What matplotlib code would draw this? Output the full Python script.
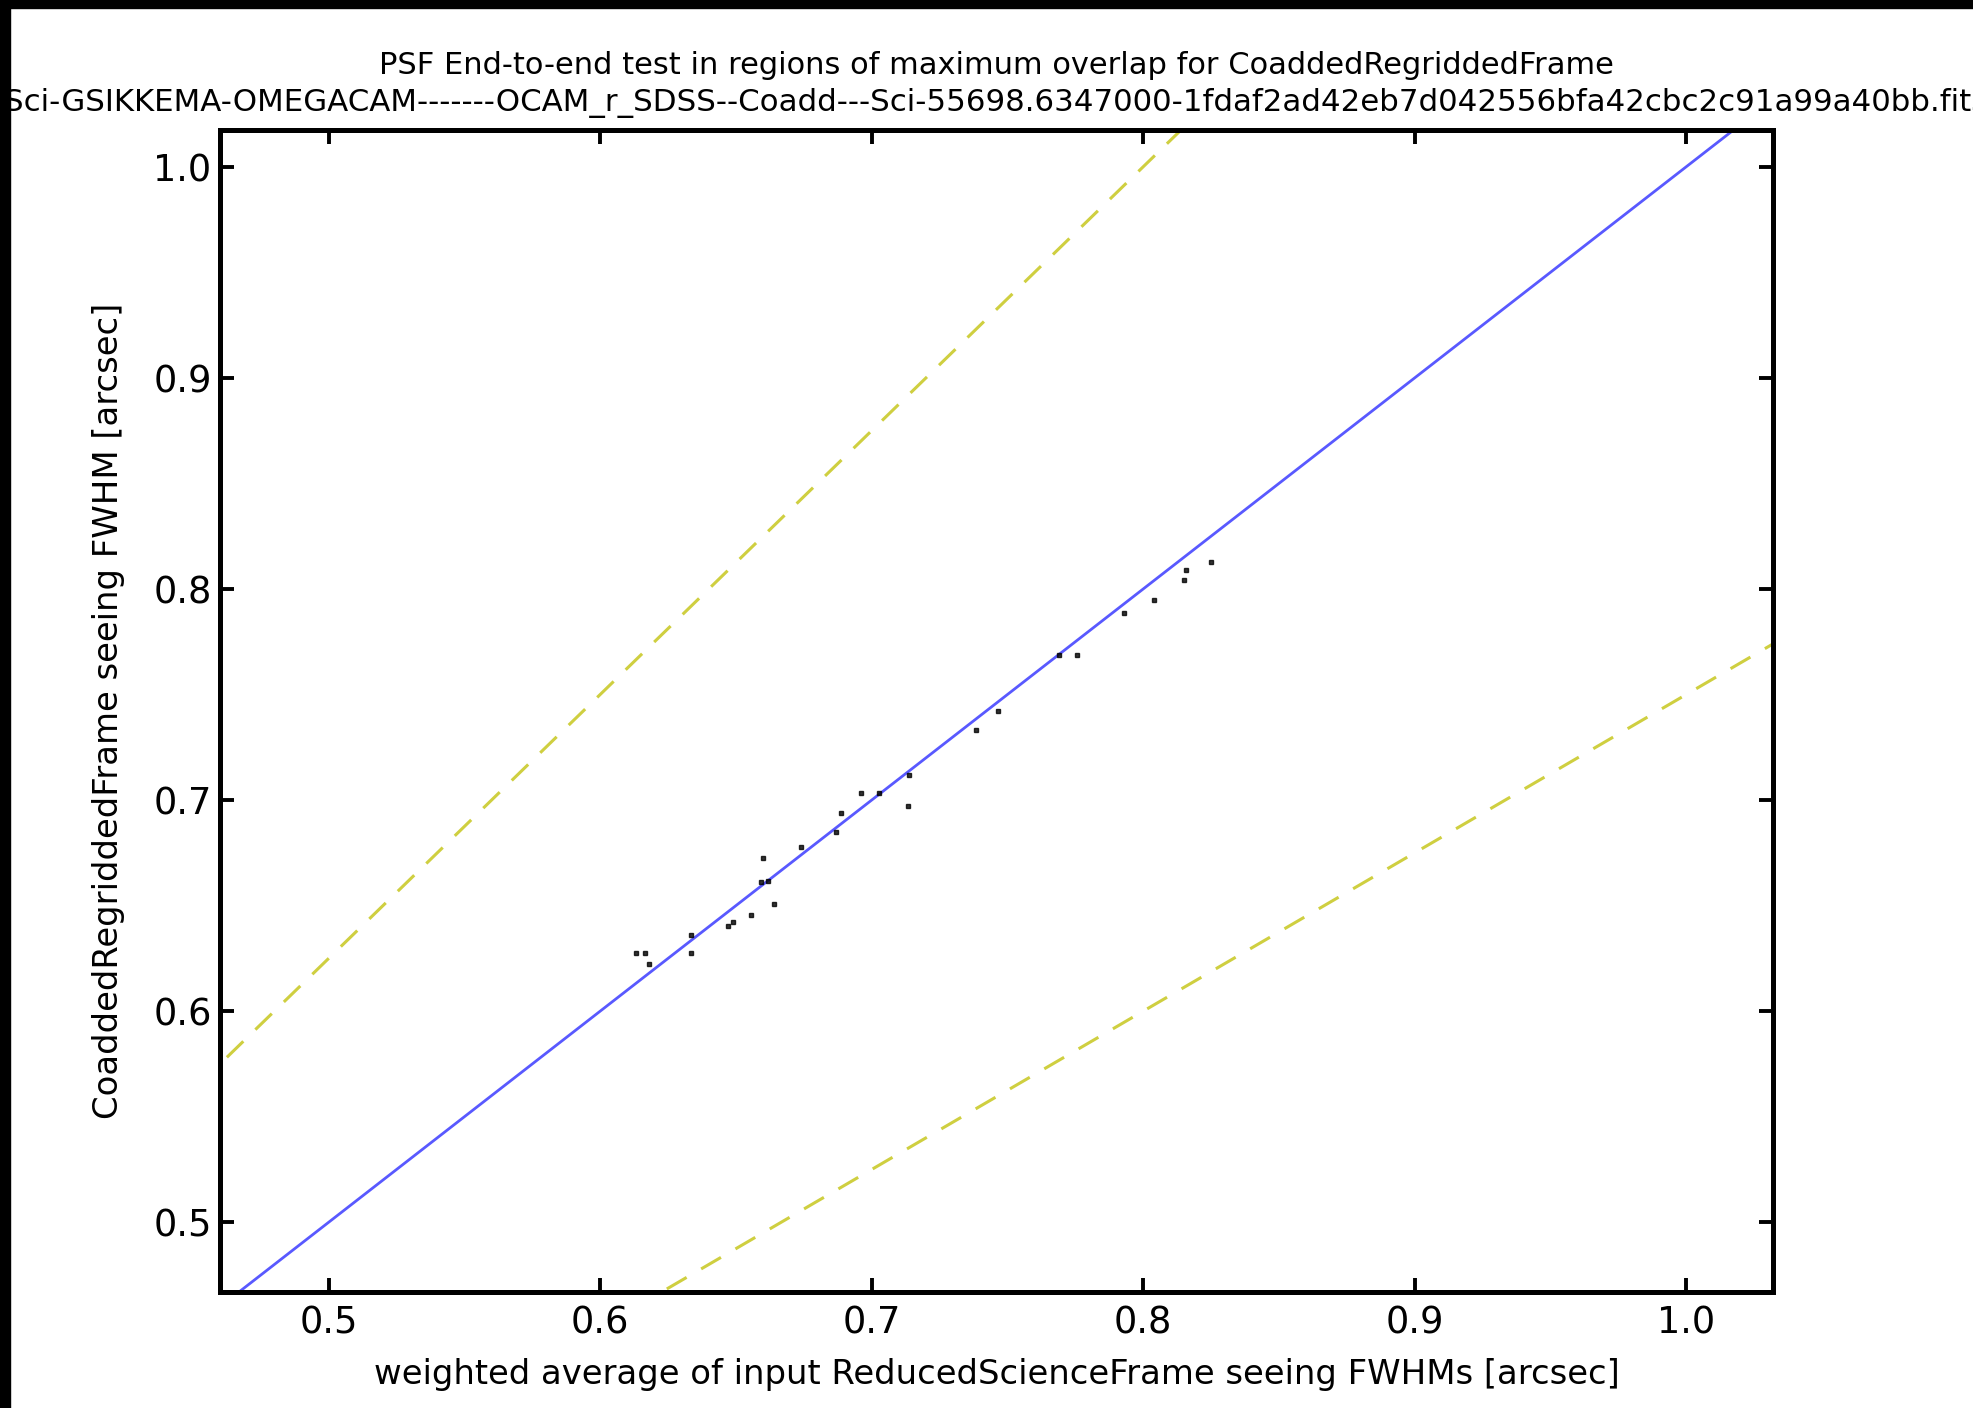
import matplotlib
matplotlib.use("Agg")
import matplotlib.pyplot as plt
import numpy as np
from matplotlib.patches import Rectangle

# Data
input_fwhm = [0.6133, 0.6166, 0.6181, 0.6336, 0.6336, 0.6472, 0.6490, 0.6556,
              0.6641, 0.6593, 0.6619, 0.6600, 0.6740, 0.6869, 0.6887, 0.6961,
              0.7027, 0.7134, 0.7138, 0.7384, 0.7465, 0.7690, 0.7756, 0.7929,
              0.8039, 0.8157, 0.8149, 0.8252]
coadd_fwhm = [0.6274, 0.6274, 0.6222, 0.6359, 0.6274, 0.6402, 0.6425, 0.6458,
              0.6510, 0.6610, 0.6619, 0.6728, 0.6776, 0.6847, 0.6941, 0.7036,
              0.7036, 0.6970, 0.7121, 0.7334, 0.7424, 0.7689, 0.7689, 0.7888,
              0.7950, 0.8092, 0.8045, 0.8130]
ref_slope = 1.0
band_slopes = [1.25, 0.75]
line_x = [0.0, 2.0]
xticks = [0.5, 0.6, 0.7, 0.8, 0.9, 1.0]
yticks = [0.5, 0.6, 0.7, 0.8, 0.9, 1.0]

title1 = "PSF End-to-end test in regions of maximum overlap for CoaddedRegriddedFrame"
title2 = ("Sci-GSIKKEMA-OMEGACAM-------OCAM_r_SDSS--Coadd---Sci-55698.6347000-"
          "1fdaf2ad42eb7d042556bfa42cbc2c91a99a40bb.fits")

fig = plt.figure(figsize=(19.73, 14.08), dpi=100)
ax = fig.add_axes([0.1115, 0.0824, 0.8986 - 0.1115, 0.9077 - 0.0824])

lx = np.array(line_x)
ax.plot(lx, ref_slope * lx, color="b", lw=2.0, alpha=0.65)
for s in band_slopes:
    ax.plot(lx, s * lx, color="y", lw=2.2, ls=(0, (7.5, 5.5)), alpha=0.75)
ax.plot(input_fwhm, coadd_fwhm, ls="none", marker="s", ms=3, color="k",
        mec="k", alpha=0.8)

ax.set_xlim(0.4600, 1.032)
ax.set_ylim(0.467, 1.0175)
ax.set_xticks(xticks)
ax.set_yticks(yticks)
ax.set_xticklabels([f"{v:.1f}" for v in xticks])
ax.set_yticklabels([f"{v:.1f}" for v in yticks])
ax.tick_params(direction="in", length=10, width=2.8, top=True, right=True,
               labelsize=26.5, colors="k")
ax.tick_params(axis="x", pad=9)
ax.tick_params(axis="y", pad=6)
for sp in ax.spines.values():
    sp.set_linewidth(3.6)

ax.set_xlabel("weighted average of input ReducedScienceFrame seeing FWHMs [arcsec]",
              fontsize=24.4, labelpad=12)
ax.set_ylabel("CoaddedRegriddedFrame seeing FWHM [arcsec]", fontsize=24.4, labelpad=20)

fig.text(0.5048, 1 - 65 / 1408, title1, ha="center", va="center", fontsize=22)
fig.text(0.5048, 1 - 103 / 1408, title2, ha="center", va="center", fontsize=22.2)

# black borders at top and left of the image
fig.patches.append(Rectangle((0, 1 - 8 / 1408), 1, 8 / 1408, transform=fig.transFigure,
                             color="k", zorder=10))
fig.patches.append(Rectangle((0, 0), 10 / 1973, 1, transform=fig.transFigure,
                             color="k", zorder=10))

fig.savefig("out.png", dpi=100)
